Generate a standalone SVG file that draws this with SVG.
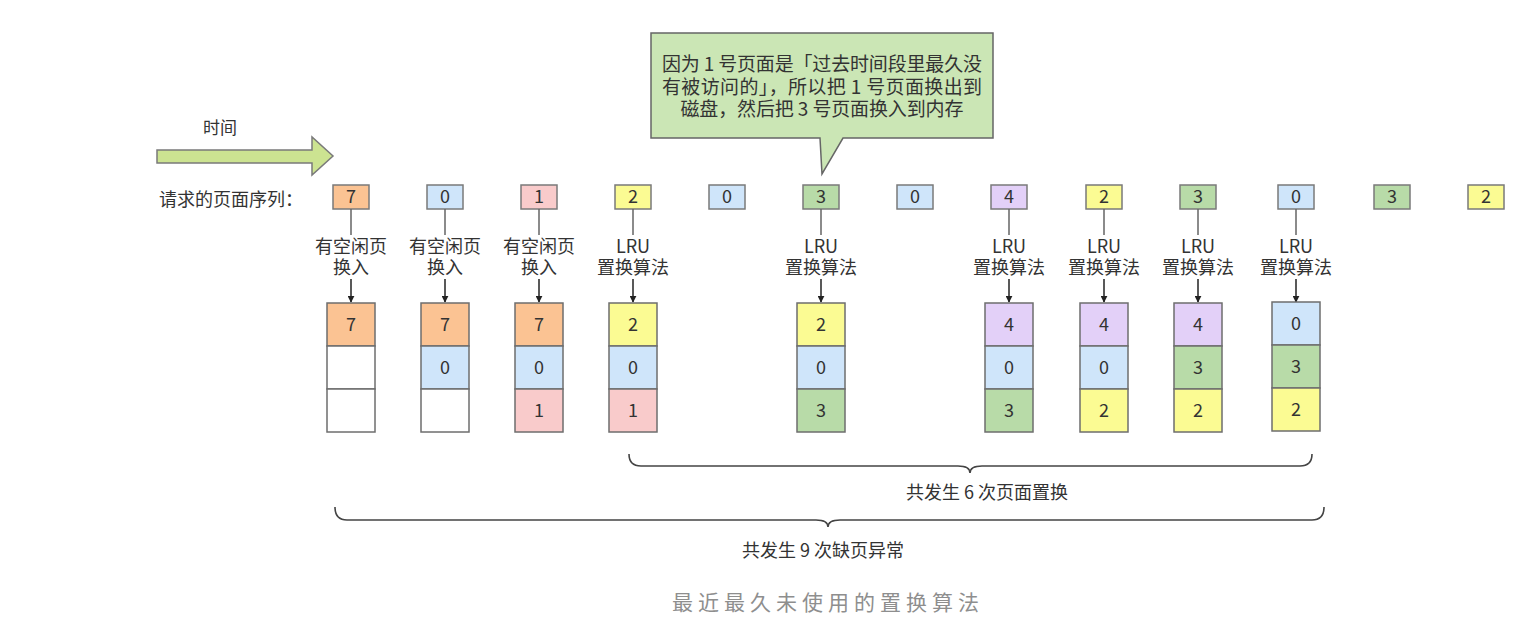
<svg xmlns="http://www.w3.org/2000/svg" width="1515" height="633" viewBox="0 0 1515 633">
<style>
text{font-family:"Noto Sans CJK SC","Noto Sans",sans-serif;fill:#333;}
.lbl{font-size:18px;text-anchor:middle;}
.num{font-size:18px;text-anchor:middle;}
.seq{stroke:#7a7a7a;stroke-width:1.5;}
.cell{stroke:#6e6e6e;stroke-width:1.5;}
.stem{stroke:#666;stroke-width:1.5;fill:none;}
.arr{stroke:#222;stroke-width:1.5;fill:none;marker-end:url(#ah);}
.brace{stroke:#444;stroke-width:1.6;fill:none;}
.o{fill:#fbc393}.b{fill:#cfe5fa}.p{fill:#f9cbcb}.y{fill:#fbfb93}.g{fill:#b8dba8}.v{fill:#e3d0f8}.w{fill:#fff}
</style>
<defs>
<marker id="ah" viewBox="0 0 10 10" refX="9" refY="5" markerWidth="7" markerHeight="7" orient="auto" markerUnits="userSpaceOnUse">
<path d="M0,0 L10,5 L0,10 Z" fill="#222"/>
</marker>
</defs>
<rect width="1515" height="633" fill="#fff"/>

<g id="time">
<polygon points="157,150 312,150 312,137 333,156 312,175 312,163 157,163" fill="#cce391" stroke="#7a7a7a" stroke-width="1.5"/>
<text x="203" y="134" style="font-size:17px">时间</text>
</g>

<g id="callout">
<path d="M651,33 H993 V138 H843 L822,174 L820,138 H651 Z" fill="#cbe6b5" stroke="#666" stroke-width="1.5"/>
<text x="822" y="71" class="lbl" style="font-size:19px" textLength="320" lengthAdjust="spacing">因为 1 号页面是「过去时间段里最久没</text>
<text x="822" y="94" class="lbl" style="font-size:19px" textLength="320" lengthAdjust="spacing">有被访问的」，所以把 1 号页面换出到</text>
<text x="822" y="116" class="lbl" style="font-size:19px" textLength="283" lengthAdjust="spacing">磁盘，然后把 3 号页面换入到内存</text>
</g>

<g id="seq-label"><text x="159" y="206" style="font-size:18px">请求的页面序列：</text></g>

<g id="sequence">
<g id="s1"><rect x="333" y="185" width="36" height="24" class="seq o"/><text x="351" y="203" class="num">7</text></g>
<g id="s2"><rect x="427" y="185" width="36" height="24" class="seq b"/><text x="445" y="203" class="num">0</text></g>
<g id="s3"><rect x="521" y="185" width="36" height="24" class="seq p"/><text x="539" y="203" class="num">1</text></g>
<g id="s4"><rect x="615" y="185" width="36" height="24" class="seq y"/><text x="633" y="203" class="num">2</text></g>
<g id="s5"><rect x="709" y="185" width="36" height="24" class="seq b"/><text x="727" y="203" class="num">0</text></g>
<g id="s6"><rect x="803" y="185" width="36" height="24" class="seq g"/><text x="821" y="203" class="num">3</text></g>
<g id="s7"><rect x="897" y="185" width="36" height="24" class="seq b"/><text x="915" y="203" class="num">0</text></g>
<g id="s8"><rect x="991" y="185" width="36" height="24" class="seq v"/><text x="1009" y="203" class="num">4</text></g>
<g id="s9"><rect x="1086" y="185" width="36" height="24" class="seq y"/><text x="1104" y="203" class="num">2</text></g>
<g id="s10"><rect x="1180" y="185" width="36" height="24" class="seq g"/><text x="1198" y="203" class="num">3</text></g>
<g id="s11"><rect x="1278" y="185" width="36" height="24" class="seq b"/><text x="1296" y="203" class="num">0</text></g>
<g id="s12"><rect x="1374" y="185" width="36" height="24" class="seq g"/><text x="1392" y="203" class="num">3</text></g>
<g id="s13"><rect x="1468" y="185" width="36" height="24" class="seq y"/><text x="1486" y="203" class="num">2</text></g>
</g>

<g id="connectors">
<path class="stem" d="M351,209 V235 M445,209 V235 M539,209 V235 M633,209 V235 M821,209 V235 M1009,209 V235 M1104,209 V235 M1198,209 V235 M1296,209 V235"/>
<line class="arr" x1="351" y1="279" x2="351" y2="302"/>
<line class="arr" x1="445" y1="279" x2="445" y2="302"/>
<line class="arr" x1="539" y1="279" x2="539" y2="302"/>
<line class="arr" x1="633" y1="279" x2="633" y2="302"/>
<line class="arr" x1="821" y1="279" x2="821" y2="302"/>
<line class="arr" x1="1009" y1="279" x2="1009" y2="302"/>
<line class="arr" x1="1104" y1="279" x2="1104" y2="302"/>
<line class="arr" x1="1198" y1="279" x2="1198" y2="302"/>
<line class="arr" x1="1296" y1="279" x2="1296" y2="302"/>
</g>

<g id="labels">
<text x="351" y="253" class="lbl">有空闲页</text><text x="351" y="274" class="lbl">换入</text>
<text x="445" y="253" class="lbl">有空闲页</text><text x="445" y="274" class="lbl">换入</text>
<text x="539" y="253" class="lbl">有空闲页</text><text x="539" y="274" class="lbl">换入</text>
<text x="633" y="253" class="lbl">LRU</text><text x="633" y="274" class="lbl">置换算法</text>
<text x="821" y="253" class="lbl">LRU</text><text x="821" y="274" class="lbl">置换算法</text>
<text x="1009" y="253" class="lbl">LRU</text><text x="1009" y="274" class="lbl">置换算法</text>
<text x="1104" y="253" class="lbl">LRU</text><text x="1104" y="274" class="lbl">置换算法</text>
<text x="1198" y="253" class="lbl">LRU</text><text x="1198" y="274" class="lbl">置换算法</text>
<text x="1296" y="253" class="lbl">LRU</text><text x="1296" y="274" class="lbl">置换算法</text>
</g>

<g id="frame1">
<rect x="327" y="303" width="48" height="43" class="cell o"/><text x="351" y="331" class="num">7</text>
<rect x="327" y="346" width="48" height="43" class="cell w"/>
<rect x="327" y="389" width="48" height="43" class="cell w"/>
</g>
<g id="frame2">
<rect x="421" y="303" width="48" height="43" class="cell o"/><text x="445" y="331" class="num">7</text>
<rect x="421" y="346" width="48" height="43" class="cell b"/><text x="445" y="374" class="num">0</text>
<rect x="421" y="389" width="48" height="43" class="cell w"/>
</g>
<g id="frame3">
<rect x="515" y="303" width="48" height="43" class="cell o"/><text x="539" y="331" class="num">7</text>
<rect x="515" y="346" width="48" height="43" class="cell b"/><text x="539" y="374" class="num">0</text>
<rect x="515" y="389" width="48" height="43" class="cell p"/><text x="539" y="417" class="num">1</text>
</g>
<g id="frame4">
<rect x="609" y="303" width="48" height="43" class="cell y"/><text x="633" y="331" class="num">2</text>
<rect x="609" y="346" width="48" height="43" class="cell b"/><text x="633" y="374" class="num">0</text>
<rect x="609" y="389" width="48" height="43" class="cell p"/><text x="633" y="417" class="num">1</text>
</g>
<g id="frame5">
<rect x="797" y="303" width="48" height="43" class="cell y"/><text x="821" y="331" class="num">2</text>
<rect x="797" y="346" width="48" height="43" class="cell b"/><text x="821" y="374" class="num">0</text>
<rect x="797" y="389" width="48" height="43" class="cell g"/><text x="821" y="417" class="num">3</text>
</g>
<g id="frame6">
<rect x="985" y="303" width="48" height="43" class="cell v"/><text x="1009" y="331" class="num">4</text>
<rect x="985" y="346" width="48" height="43" class="cell b"/><text x="1009" y="374" class="num">0</text>
<rect x="985" y="389" width="48" height="43" class="cell g"/><text x="1009" y="417" class="num">3</text>
</g>
<g id="frame7">
<rect x="1080" y="303" width="48" height="43" class="cell v"/><text x="1104" y="331" class="num">4</text>
<rect x="1080" y="346" width="48" height="43" class="cell b"/><text x="1104" y="374" class="num">0</text>
<rect x="1080" y="389" width="48" height="43" class="cell y"/><text x="1104" y="417" class="num">2</text>
</g>
<g id="frame8">
<rect x="1174" y="303" width="48" height="43" class="cell v"/><text x="1198" y="331" class="num">4</text>
<rect x="1174" y="346" width="48" height="43" class="cell g"/><text x="1198" y="374" class="num">3</text>
<rect x="1174" y="389" width="48" height="43" class="cell y"/><text x="1198" y="417" class="num">2</text>
</g>
<g id="frame9">
<rect x="1272" y="302" width="48" height="43" class="cell b"/><text x="1296" y="330" class="num">0</text>
<rect x="1272" y="345" width="48" height="43" class="cell g"/><text x="1296" y="373" class="num">3</text>
<rect x="1272" y="388" width="48" height="43" class="cell y"/><text x="1296" y="416" class="num">2</text>
</g>

<g id="brace-replace">
<path class="brace" d="M629,454 Q629,466 641,466 H958 Q970,466 970,473 Q970,466 982,466 H1300 Q1312,466 1312,454"/>
<text x="987" y="499" class="lbl">共发生 6 次页面置换</text>
</g>
<g id="brace-fault">
<path class="brace" d="M335,507 Q335,520 347,520 H816 Q828,520 828,527 Q828,520 840,520 H1312 Q1324,520 1324,507"/>
<text x="823" y="557" class="lbl">共发生 9 次缺页异常</text>
</g>

<g id="caption">
<text x="828" y="610" style="font-size:21px;fill:#8e8e8e;letter-spacing:5px;text-anchor:middle">最近最久未使用的置换算法</text>
</g>
</svg>
